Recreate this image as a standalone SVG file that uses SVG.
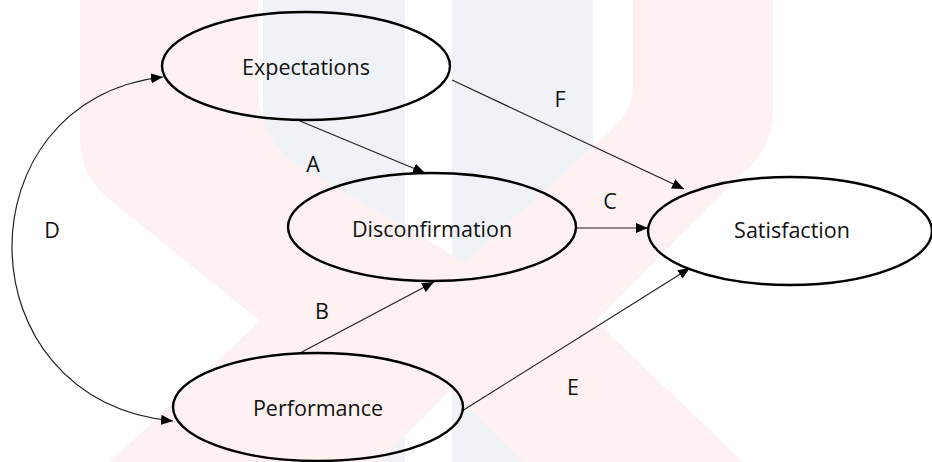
<svg xmlns="http://www.w3.org/2000/svg" width="932" height="462" viewBox="0 0 932 462">
<style>
.node{fill:none;stroke:#000;stroke-width:2.4}
.lbl{font-family:"Open Sans","Liberation Sans",sans-serif;font-size:21.5px;fill:#111;text-anchor:middle}
.edge{fill:none;stroke:#222;stroke-width:1.2}
</style>
<defs>
<marker id="arr" viewBox="0 0 12 10" refX="12" refY="5" markerWidth="12" markerHeight="10" orient="auto-start-reverse" markerUnits="userSpaceOnUse"><path d="M0,0 L12,5 L0,10 Z" fill="#000"/></marker>
</defs>
<rect width="932" height="462" fill="#fff"/>
<g id="watermark">
<rect x="263" y="0" width="142" height="462" fill="#eff3f7"/>
<rect x="452" y="0" width="141" height="462" fill="#eff3f7"/>
<path d="M80,0 L258,0 L258,90 Q258,130 290,160 L465,262 L600,140 Q633,115 633,85 L633,0 L773,0 L773,110 Q773,150 740,175 L596,321 L743,462 L523,462 L450,390 L380,462 L110,462 L260,321 L110,200 Q80,175 80,140 Z" fill="#fdf1f1"/>
</g>
<g id="connectors">
<path class="edge" d="M300,121 L425,173" marker-end="url(#arr)"/>
<path class="edge" d="M452,80 L684,189" marker-end="url(#arr)"/>
<path class="edge" d="M576,228 L648,228" marker-end="url(#arr)"/>
<path class="edge" d="M300,353 L434,282" marker-end="url(#arr)"/>
<path class="edge" d="M462,411 L690,268" marker-end="url(#arr)"/>
<path class="edge" d="M163,77 C-40,100 -40,400 173,421" marker-start="url(#arr)" marker-end="url(#arr)"/>
<text class="lbl" x="313" y="172">A</text>
<text class="lbl" x="560" y="107">F</text>
<text class="lbl" x="610" y="209">C</text>
<text class="lbl" x="52" y="238">D</text>
<text class="lbl" x="322" y="319">B</text>
<text class="lbl" x="573" y="395">E</text>
</g>
<g id="expectations">
<ellipse class="node" cx="306" cy="66" rx="144" ry="54"/>
<text class="lbl" x="306" y="75">Expectations</text>
</g>
<g id="disconfirmation">
<ellipse class="node" cx="432" cy="227" rx="144" ry="54"/>
<text class="lbl" x="432" y="237">Disconfirmation</text>
</g>
<g id="satisfaction">
<ellipse class="node" cx="790" cy="231" rx="142" ry="54"/>
<text class="lbl" x="792" y="238">Satisfaction</text>
</g>
<g id="performance">
<ellipse class="node" cx="318" cy="407" rx="145" ry="54"/>
<text class="lbl" x="318" y="416">Performance</text>
</g>
</svg>
